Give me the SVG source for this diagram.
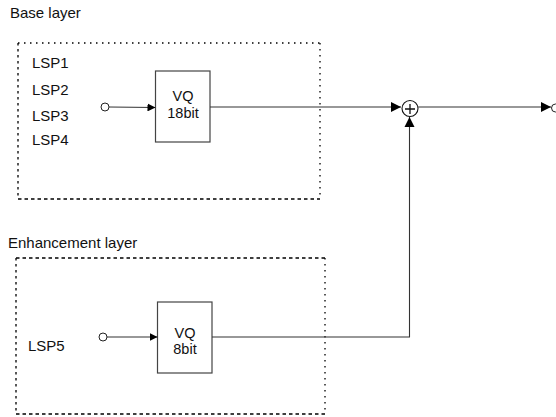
<svg xmlns="http://www.w3.org/2000/svg" width="556" height="417" viewBox="0 0 556 417">
<style>
text{font-family:"Liberation Sans",Arial,sans-serif;font-size:15px;fill:#111}
.vq{font-size:14.5px;text-anchor:middle}
.box{fill:#fff;stroke:#444;stroke-width:1.2}
.dot{stroke:#000;stroke-width:1.3;fill:none}
.d1{stroke-dasharray:1.5 4.5}
.d2{stroke-dasharray:3.5 3}
.d3{stroke-dasharray:2.5 3.5}
.ln{stroke:#333;stroke-width:1.1;fill:none}
.pin{fill:#fff;stroke:#222;stroke-width:1}
</style>
<defs>
<marker id="ah" viewBox="0 0 10 10" refX="10" refY="5" markerWidth="10" markerHeight="11" markerUnits="userSpaceOnUse" orient="auto">
<path d="M0,0 L10,5 L0,10 Z" fill="#000"/>
</marker>
<marker id="as" viewBox="0 0 10 10" refX="10" refY="5" markerWidth="8" markerHeight="8" markerUnits="userSpaceOnUse" orient="auto">
<path d="M0,0 L10,5 L0,10 Z" fill="#000"/>
</marker>
</defs>
<g id="base-layer">
<text x="10" y="18">Base layer</text>
<line class="dot d1" x1="18" y1="43" x2="320" y2="43"/>
<line class="dot d1" x1="320" y1="43" x2="320" y2="199"/>
<line class="dot d2" x1="18" y1="199" x2="320" y2="199"/>
<line class="dot d3" x1="18" y1="43" x2="18" y2="199"/>
<text x="32" y="68">LSP1</text>
<text x="32" y="95">LSP2</text>
<text x="32" y="121">LSP3</text>
<text x="32" y="145">LSP4</text>
</g>
<g id="enhancement-layer">
<text x="8" y="248">Enhancement layer</text>
<line class="dot d2" x1="16" y1="258" x2="325" y2="258"/>
<line class="dot d1" x1="325" y1="258" x2="325" y2="414"/>
<line class="dot d2" x1="16" y1="414" x2="325" y2="414"/>
<line class="dot d3" x1="16" y1="258" x2="16" y2="414"/>
<text x="28" y="351">LSP5</text>
</g>
<g id="vq18">
<rect class="box" x="155.5" y="71" width="54.5" height="71"/>
<text class="vq" x="183" y="101">VQ</text>
<text class="vq" x="183" y="118">18bit</text>
</g>
<g id="vq8">
<rect class="box" x="157.5" y="302" width="54.5" height="71"/>
<text class="vq" x="185" y="338">VQ</text>
<text class="vq" x="185" y="354">8bit</text>
</g>
<g id="adder">
<circle cx="410" cy="108.5" r="8" fill="#fff" stroke="#111" stroke-width="1.1"/>
<path d="M405,109 H415 M410,104 V114" stroke="#111" stroke-width="1.3"/>
</g>
<g id="connectors">
<line class="ln" x1="109" y1="107" x2="155.5" y2="107.5" stroke="#000" marker-end="url(#as)"/>
<line class="ln" x1="107" y1="337" x2="157.5" y2="337" stroke="#000" marker-end="url(#as)"/>
<line class="ln" x1="210" y1="107" x2="401" y2="107" marker-end="url(#ah)"/>
<polyline class="ln" points="212,337 409.5,337 409.5,117" marker-end="url(#ah)"/>
<line class="ln" x1="418" y1="107" x2="551" y2="107" marker-end="url(#ah)"/>
<circle class="pin" cx="105" cy="107" r="4"/>
<circle class="pin" cx="103" cy="337" r="4"/>
<circle class="pin" cx="555.5" cy="108" r="4"/>
</g>
</svg>
